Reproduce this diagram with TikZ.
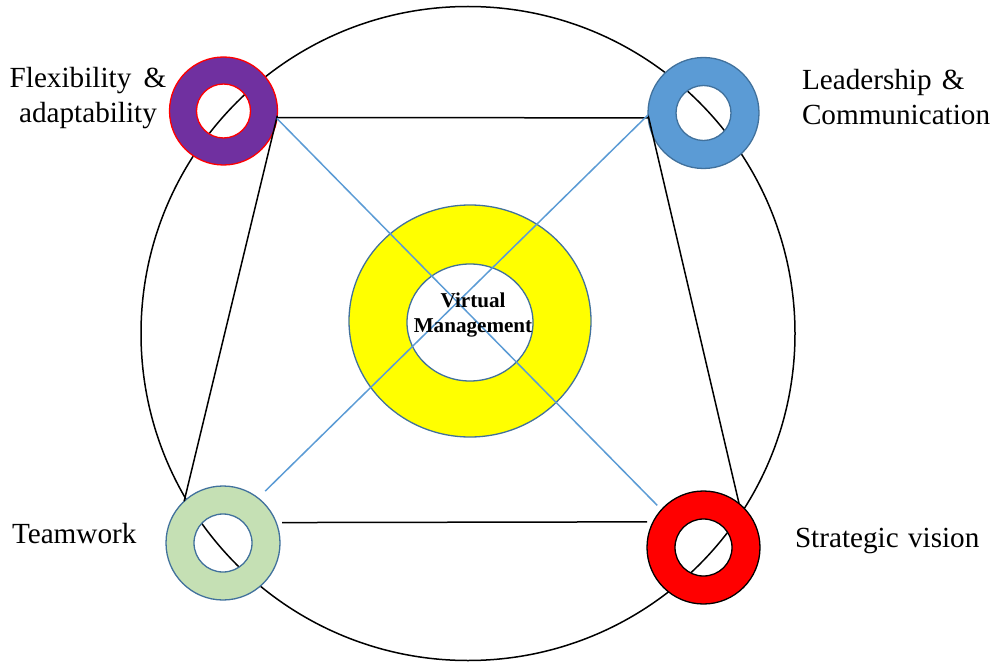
\documentclass[tikz,border=0pt]{standalone}
\usepackage{fontspec}
\setmainfont{Liberation Serif}
\usetikzlibrary{shapes.geometric}
\begin{document}
\begin{tikzpicture}[x=1bp,y=-1bp,
  every node/.style={inner sep=0pt, outer sep=0pt},
  hub/.style={circle, draw=none, minimum size=#1},
  ringpath/.style={even odd rule, line width=1.3bp},
  frame/.style={black, line width=1.5bp},
  spoke/.style={color=lineblue, line width=1.5bp},
  label/.style={font=\fontsize{29.3}{36}\selectfont}
]
\definecolor{purp}{HTML}{7030A0}
\definecolor{ringred}{HTML}{FF0000}
\definecolor{skyb}{HTML}{5B9BD5}
\definecolor{edgeb}{HTML}{41719C}
\definecolor{sage}{HTML}{C5E0B4}
\definecolor{lineblue}{HTML}{5B9BD5}
\definecolor{yel}{HTML}{FFFF00}

\useasboundingbox (0,0) rectangle (995,662);

% outer circle
\draw[frame] (468,333.5) circle[radius=327];

% ring anchors
\node[hub=108bp] (fa) at (223.5,111) {};
\node[hub=111bp] (lc) at (703.5,113) {};
\node[hub=114bp] (tw) at (223,543) {};
\node[hub=113bp] (sv) at (703.5,547.5) {};

% rings
\path[ringpath, fill=purp, draw=ringred] (fa.center) circle[radius=54] (fa.center) circle[radius=27];
\path[ringpath, fill=skyb, draw=edgeb] (lc.center) circle[radius=55.5] (lc.center) circle[radius=27.5];
\path[ringpath, fill=sage, draw=edgeb] (tw.center) circle[radius=57] (tw.center) circle[radius=29];
\path[ringpath, fill=ringred, draw=black] (sv.center) circle[radius=56.5] (sv.center) circle[radius=28.5];

% central ring
\node[ellipse, draw=none, minimum width=242bp, minimum height=232bp] (vm) at (470,321) {};
\path[ringpath, fill=yel, draw=edgeb] (vm.center) ellipse[x radius=121, y radius=116]
  (470,322.5) ellipse[x radius=63, y radius=58.5];

% quadrilateral
\draw[frame] (fa.-7) -- (lc.-175);
\draw[frame] (fa.-5) -- (tw.133);
\draw[frame] (lc.-178) -- (sv.51);
\draw[frame, shorten <=6bp, shorten >=6bp] (tw.21.6) -- (sv.153.2);

% diagonals
\draw[spoke, shorten >=6bp] (fa.-8) -- (sv.138);
\draw[spoke, shorten >=10bp] (lc.-178) -- (tw.52);

% labels
\node[label, align=center] (tfa) at (88,98) {Flexibility\hspace{5bp} \&\\adaptability};
\node[label, align=left, anchor=west] (tlc) at (802,97) {Leadership\hspace{3bp} \&\\Communication};
\node[label, anchor=base west] (ttw) at (12,543) {Teamwork};
\node[label, anchor=base west] (tsv) at (795,547) {Strategic\hspace{2bp} vision};
\node[font=\fontsize{21.2}{25}\selectfont\bfseries, align=center] (tvm) at (473,315) {Virtual\\Management};
\end{tikzpicture}
\end{document}
